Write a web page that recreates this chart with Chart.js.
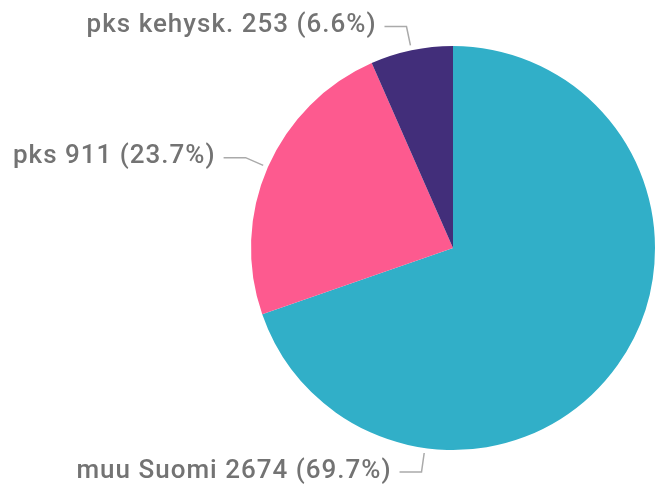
<!DOCTYPE html>
<html lang="fi">
<head>
    <meta charset="UTF-8">
    <title>Jakauma</title>
    <style>
        html, body { margin: 0; padding: 0; background: #ffffff; }
        .chart-container { width: 655px; height: 489px; position: relative; }
    </style>
</head>
<body>
    <div class="chart-container">
        <canvas id="piirakka"></canvas>
    </div>

    <script src="https://cdn.jsdelivr.net/npm/chart.js"></script>
    <script>
        const alueet = ['muu Suomi', 'pks', 'pks kehysk.'];
        const maarat = [2674, 911, 253];
        const varit = ['#31afc8', '#fd5a8f', '#422e7a'];

        // label anchor angle (deg, canvas coords); null = slice middle
        const labelKulmat = [98, null, null];

        const yhteensa = maarat.reduce((a, b) => a + b, 0);

        const leaderPlugin = {
            id: 'leaderLabels',
            afterDatasetsDraw(chart) {
                const ctx = chart.ctx;
                const meta = chart.getDatasetMeta(0);
                ctx.save();
                meta.data.forEach((arc, i) => {
                    const p = arc.getProps(['x', 'y', 'startAngle', 'endAngle', 'outerRadius'], true);
                    let a = (p.startAngle + p.endAngle) / 2;
                    if (labelKulmat[i] !== null) a = labelKulmat[i] * Math.PI / 180;
                    const r = p.outerRadius;
                    const x1 = p.x + Math.cos(a) * (r + 5);
                    const y1 = p.y + Math.sin(a) * (r + 5);
                    const x2 = p.x + Math.cos(a) * (r * 1.12);
                    const y2 = p.y + Math.sin(a) * (r * 1.12);
                    const dir = Math.cos(a) < 0.2 ? -1 : 1;
                    const x3 = x2 + dir * 22;

                    ctx.strokeStyle = '#aaaaaa';
                    ctx.lineWidth = 1.5;
                    ctx.beginPath();
                    ctx.moveTo(x1, y1);
                    ctx.lineTo(x2, y2);
                    ctx.lineTo(x3, y2);
                    ctx.stroke();

                    const pct = (maarat[i] / yhteensa * 100).toFixed(1);
                    ctx.fillStyle = '#737373';
                    ctx.font = '500 26px Roboto';
                    ctx.letterSpacing = '1px';
                    ctx.textBaseline = 'middle';
                    ctx.textAlign = dir < 0 ? 'right' : 'left';
                    ctx.fillText(`${alueet[i]} ${maarat[i]} (${pct}%)`, x3 + dir * 8, y2 - 1);
                });
                ctx.restore();
            }
        };

        const ctxPie = document.getElementById('piirakka').getContext('2d');
        new Chart(ctxPie, {
            type: 'pie',
            data: {
                labels: alueet,
                datasets: [{
                    data: maarat,
                    backgroundColor: varit,
                    borderWidth: 0
                }]
            },
            options: {
                responsive: true,
                maintainAspectRatio: false,
                animation: false,
                layout: { padding: { left: 251, right: 0, top: 45, bottom: 38 } },
                plugins: {
                    legend: { display: false },
                    tooltip: { enabled: false }
                }
            },
            plugins: [leaderPlugin]
        });
    </script>
</body>
</html>
